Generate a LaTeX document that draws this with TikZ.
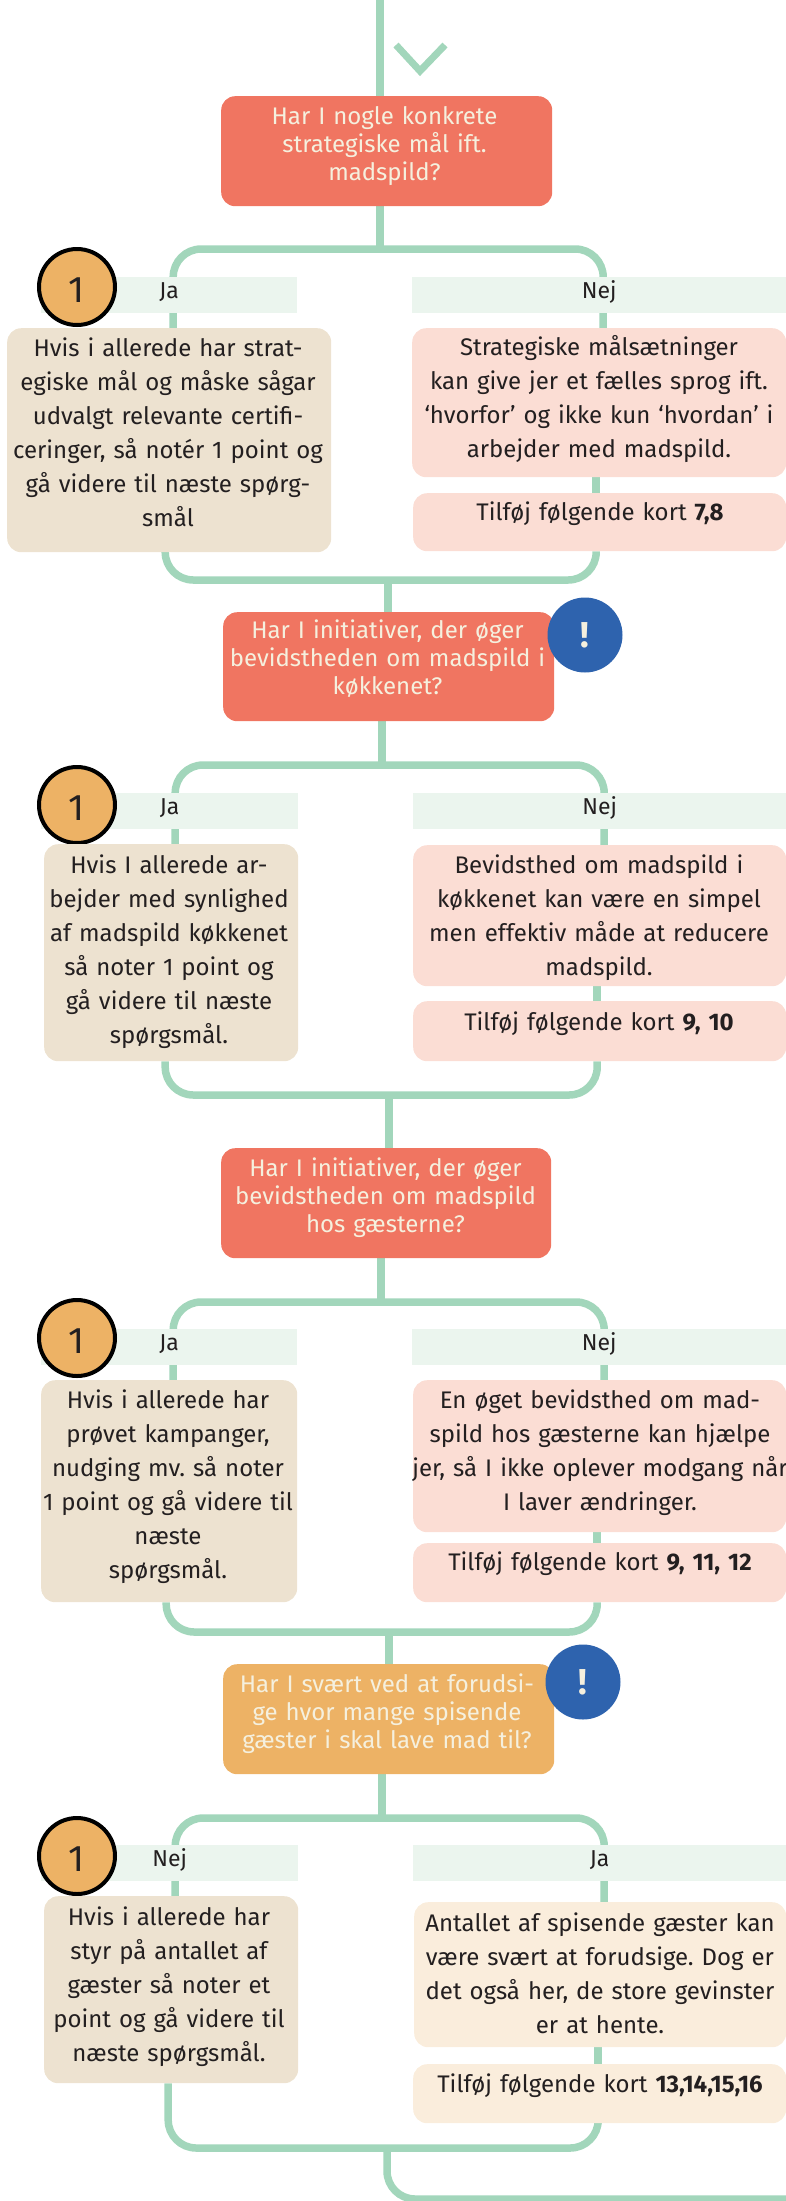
\documentclass[tikz,border=0pt]{standalone}
\usepackage{fontspec}
\setmainfont{Fira Sans}
\usetikzlibrary{backgrounds}
\definecolor{lineg}{HTML}{A2D6BB}
\definecolor{bandc}{HTML}{EBF5EE}
\definecolor{beige}{HTML}{EDE2D0}
\definecolor{pinkc}{HTML}{FBDDD4}
\definecolor{salmon}{HTML}{F07561}
\definecolor{orangec}{HTML}{EDB265}
\definecolor{bluec}{HTML}{2E63AE}
\definecolor{creamt}{HTML}{F5F0DE}
\definecolor{creamb}{HTML}{FAEDDC}
\definecolor{darkt}{HTML}{231F20}
\newcommand{\fs}{\rule{0pt}{22pt}}
\frenchspacing
\begin{document}
\begin{tikzpicture}[x=1pt,y=-1pt,
  conn/.style={draw=lineg, line width=7.5pt},
  card/.style={rounded corners=14pt, inner sep=0pt, anchor=north west},
  qbox/.style={card, fill=salmon},
  jabox/.style={card, fill=beige},
  nejbox/.style={card, fill=pinkc},
  crbox/.style={card, fill=creamb},
  band/.style={fill=bandc, inner sep=0pt, anchor=north west, minimum height=36pt,
    text height=12pt, text depth=6pt, font=\fontsize{23}{28}\selectfont, text=darkt},
  body/.style={inner sep=0pt, anchor=north, text width=420pt, align=center,
    font=\fontsize{24}{34}\selectfont, text=darkt},
  qtext/.style={inner sep=0pt, anchor=north, text width=420pt, align=center,
    font=\fontsize{24}{28}\selectfont, text=creamt},
  point/.style={circle, draw=black, line width=4pt, fill=orangec, minimum size=76pt,
    inner sep=0pt, text height=30pt, text depth=0pt, font=\fontsize{37}{40}\selectfont, text=darkt},
  alert/.style={circle, fill=bluec, minimum size=75pt, inner sep=0pt,
    text height=25pt, text depth=0pt, font=\bfseries\fontsize{36}{40}\selectfont, text=creamt},
]
\useasboundingbox (0,0) rectangle (786,2201);

% ---------- section 1 ----------
\node[qbox, minimum width=331pt, minimum height=110pt] (q1) at (221,96) {};
\node[qtext] (q1t) at (384.5,102) {\fs Har I nogle konkrete\\strategiske mål ift.\\madspild?};
\node[band, minimum width=256pt] (jl1) at (41,277) {Ja};
\node[band, minimum width=374pt] (nl1) at (412,277) {Nej};
\node[point] (p1) at (77,287) {1};
\node[jabox, minimum width=324pt, minimum height=224pt] (ja1) at (7,328) {};
\node[body] (ja1t) at (168,334) {\fs Hvis i allerede har strat-\\egiske mål og måske sågar\\udvalgt relevante certifi-\\ceringer, så notér 1 point og\\gå videre til næste spørg-\\smål};
\node[nejbox, minimum width=374pt, minimum height=149pt] (nej1) at (412,328) {};
\node[body] (nej1t) at (599,333) {\fs Strategiske målsætninger\\kan give jer et fælles sprog ift.\\‘hvorfor’ og ikke kun ‘hvordan’ i\\arbejder med madspild.};
\node[nejbox, minimum width=373pt, minimum height=58pt] (add1) at (413,493) {};
\node[body] (add1t) at (600,498) {\fs Tilføj følgende kort \textbf{7,8}};

% ---------- section 2 ----------
\node[qbox, minimum width=331pt, minimum height=109pt] (q2) at (223,612) {};
\node[qtext] (q2t) at (387.5,616.5) {\fs Har I initiativer, der øger\\bevidstheden om madspild i\\køkkenet?};
\node[alert] (a2) at (585,635) {!};
\node[band, minimum width=257pt] (jl2) at (41,793) {Ja};
\node[band, minimum width=373pt] (nl2) at (413,793) {Nej};
\node[point] (p2) at (77,805) {1};
\node[jabox, minimum width=254pt, minimum height=217pt] (ja2) at (44,844) {};
\node[body] (ja2t) at (169,851) {\fs Hvis I allerede ar-\\bejder med synlighed\\af madspild køkkenet\\så noter 1 point og\\gå videre til næste\\spørgsmål.};
\node[nejbox, minimum width=373pt, minimum height=141pt] (nej2) at (413,845) {};
\node[body] (nej2t) at (599,851) {\fs Bevidsthed om madspild i\\køkkenet kan være en simpel\\men effektiv måde at reducere\\madspild.};
\node[nejbox, minimum width=373pt, minimum height=60pt] (add2) at (413,1001) {};
\node[body] (add2t) at (599,1008) {\fs Tilføj følgende kort \textbf{9, 10}};

% ---------- section 3 ----------
\node[qbox, minimum width=330pt, minimum height=110pt] (q3) at (221,1148) {};
\node[qtext] (q3t) at (385.5,1154) {\fs Har I initiativer, der øger\\bevidstheden om madspild\\hos gæsterne?};
\node[band, minimum width=256pt] (jl3) at (41,1329) {Ja};
\node[band, minimum width=374pt] (nl3) at (412,1329) {Nej};
\node[point] (p3) at (77,1338) {1};
\node[jabox, minimum width=256pt, minimum height=222pt] (ja3) at (41,1380) {};
\node[body] (ja3t) at (168,1386) {\fs Hvis i allerede har\\prøvet kampanger,\\nudging mv. så noter\\1 point og gå videre til\\næste\\spørgsmål.};
\node[nejbox, minimum width=373pt, minimum height=152pt] (nej3) at (413,1380) {};
\node[body] (nej3t) at (600,1386) {\fs En øget bevidsthed om mad-\\spild hos gæsterne kan hjælpe\\jer, så I ikke oplever modgang når\\I laver ændringer.};
\node[nejbox, minimum width=373pt, minimum height=59pt] (add3) at (413,1543) {};
\node[body] (add3t) at (600,1548) {\fs Tilføj følgende kort \textbf{9, 11, 12}};

% ---------- section 4 ----------
\node[card, fill=orangec, minimum width=331pt, minimum height=110pt] (q4) at (223,1664) {};
\node[qtext] (q4t) at (387,1670) {\fs Har I svært ved at forudsi-\\ge hvor mange spisende\\gæster i skal lave mad til?};
\node[alert] (a4) at (583,1682) {!};
\node[band, minimum width=257pt] (jl4) at (41,1845) {Nej};
\node[band, minimum width=373pt] (nl4) at (413,1845) {Ja};
\node[point] (p4) at (77,1856) {1};
\node[jabox, minimum width=254pt, minimum height=187pt] (ja4) at (44,1896) {};
\node[body] (ja4t) at (169,1903) {\fs Hvis i allerede har\\styr på antallet af\\gæster så noter et\\point og gå videre til\\næste spørgsmål.};
\node[crbox, minimum width=372pt, minimum height=145pt] (nej4) at (414,1902) {};
\node[body] (nej4t) at (600,1909) {\fs Antallet af spisende gæster kan\\være svært at forudsige. Dog er\\det også her, de store gevinster\\er at hente.};
\node[crbox, minimum width=373pt, minimum height=59pt] (add4) at (413,2064) {};
\node[body] (add4t) at (600,2070) {\fs Tilføj følgende kort \textbf{13,14,15,16}};

% ---------- connectors ----------
\begin{scope}[on background layer]
\coordinate (top) at (380,0);
\draw[conn] (top) -- (top |- q1.north);
\draw[lineg, line width=7pt] (396,45) -- (420,71) -- (445,45);

\coordinate (s1) at (380,249);
\coordinate (m1) at (388,580);
\coordinate (c1) at ([xshift=-3pt]nej1.south);
\draw[conn] (q1.south -| s1) -- (s1);
\draw[conn, rounded corners=28pt] ([xshift=4pt]ja1.north) |- (s1) -| ([xshift=4pt]nej1.north);
\draw[conn] (c1) -- (c1 |- add1.north);
\draw[conn, rounded corners=28pt] ([xshift=-4pt]ja1.south) |- (m1) -| (c1 |- add1.south);
\draw[conn] (m1) -- (m1 |- q2.north);

\coordinate (s2) at (382,765);
\coordinate (m2) at (389,1095);
\coordinate (c2) at ([xshift=-2.5pt]nej2.south);
\draw[conn] (q2.south -| s2) -- (s2);
\draw[conn, rounded corners=28pt] ([xshift=4pt]ja2.north) |- (s2) -| ([xshift=4.5pt]nej2.north);
\draw[conn] (c2) -- (c2 |- add2.north);
\draw[conn, rounded corners=28pt] ([xshift=-6pt]ja2.south) |- (m2) -| (c2 |- add2.south);
\draw[conn] (m2) -- (m2 |- q3.north);

\coordinate (s3) at (381,1302);
\coordinate (m3) at (389,1632);
\coordinate (c3) at ([xshift=-2.5pt]nej3.south);
\draw[conn] (q3.south -| s3) -- (s3);
\draw[conn, rounded corners=28pt] ([xshift=4pt]ja3.north) |- (s3) -| ([xshift=4.5pt]nej3.north);
\draw[conn] (c3) -- (c3 |- add3.north);
\draw[conn, rounded corners=28pt] ([xshift=-3pt]ja3.south) |- (m3) -| (c3 |- add3.south);
\draw[conn] (m3) -- (m3 |- q4.north);

\coordinate (s4) at (382,1818);
\coordinate (m4) at (387,2148);
\coordinate (c4) at ([xshift=-2pt]nej4.south);
\coordinate (end) at (786,2199);
\draw[conn] (q4.south -| s4) -- (s4);
\draw[conn, rounded corners=28pt] ([xshift=4pt]ja4.north) |- (s4) -| ([xshift=4pt]nej4.north);
\draw[conn] (c4) -- (c4 |- add4.north);
\draw[conn, rounded corners=28pt] ([xshift=-3pt]ja4.south) |- (m4) -| (c4 |- add4.south);
\draw[conn, rounded corners=28pt] (m4) |- (end);
\end{scope}
\end{tikzpicture}
\end{document}
